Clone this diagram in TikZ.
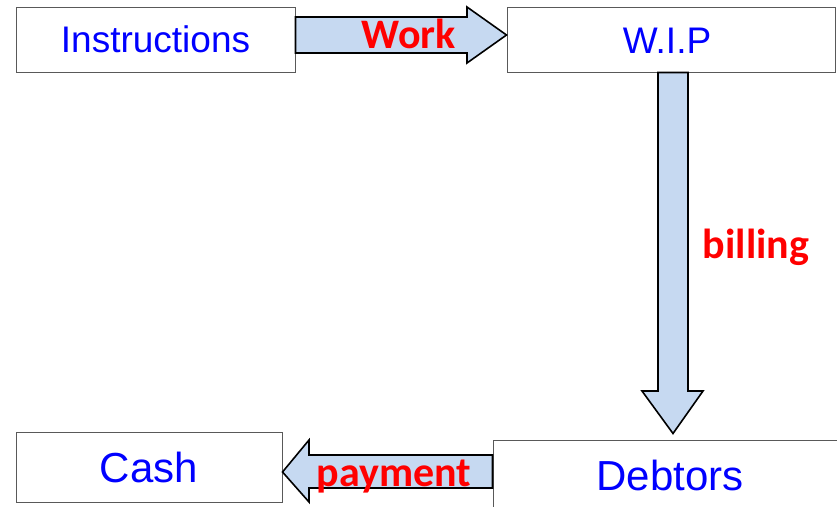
\documentclass[tikz,border=0pt]{standalone}
\usepackage{fontspec}
\setmainfont{Liberation Sans}
\newfontfamily\labelfont{Carlito}
\usetikzlibrary{calc}

\definecolor{boxline}{HTML}{595959}
\definecolor{arrowfill}{HTML}{C6D9F1}
\definecolor{boxtext}{HTML}{0000FF}
\definecolor{flowred}{HTML}{FF0000}

\tikzset{
	stagebox/.style={draw=boxline, line width=1pt, fill=white, text=boxtext, inner sep=0pt},
	blockarrow/.style={draw=black, line width=1.6pt, fill=arrowfill, line join=miter},
	flowlabel/.style={text=flowred, font=\labelfont\bfseries\fontsize{42}{42}\selectfont, inner sep=0pt, anchor=base}
}

\begin{document}
\begin{tikzpicture}[x=1pt, y=-1pt]
		\useasboundingbox (0,0) rectangle (837,506);

		% Cajas
		\node[stagebox, minimum width=279pt, minimum height=65pt, font=\fontsize{37}{37}\selectfont] (instr) at (155.5,39.5) {Instructions};
		\node[stagebox, minimum width=328pt, minimum height=65pt] (wip) at (671,39.5) {};
		\node[text=boxtext, font=\fontsize{37}{37}\selectfont, inner sep=0pt, anchor=base] (wiptext) at (667,53) {W.I.P};
		\node[stagebox, minimum width=266pt, minimum height=70pt, font=\fontsize{42}{42}\selectfont] (cash) at (149,467) {Cash};
		\node[stagebox, minimum width=346pt, minimum height=68pt] (debt) at (666,474) {};
		\node[text=boxtext, font=\fontsize{42}{42}\selectfont, inner sep=0pt, anchor=base] (debttext) at (670,490) {Debtors};

		% Flechas
		\draw[blockarrow] (instr.east |- 0,17) -- (467,17) -- (467,7) -- (wip.west |- 0,35)
			-- (467,63) -- (467,53) -- (instr.east |- 0,53) -- cycle;
		\draw[blockarrow] (wip.south -| 658,0) -- (wip.south -| 688,0) -- (688,391) -- (703,391)
			-- ($(debt.north -| 673,0)+(0,-6)$) -- (642,391) -- (658,391) -- cycle;
		\draw[blockarrow] (debt.west |- 0,455) -- (309,455) -- (309,440) -- (cash.east |- 0,472)
			-- (309,502) -- (309,488) -- (debt.west |- 0,488) -- cycle;

		% Etiquetas
		\node[flowlabel] (work) at (409,48) {Work};
		\node[flowlabel] (billing) at (756,258) {billing};
		\node[flowlabel] (payment) at (394,486) {payment};
	\end{tikzpicture}
\end{document}
